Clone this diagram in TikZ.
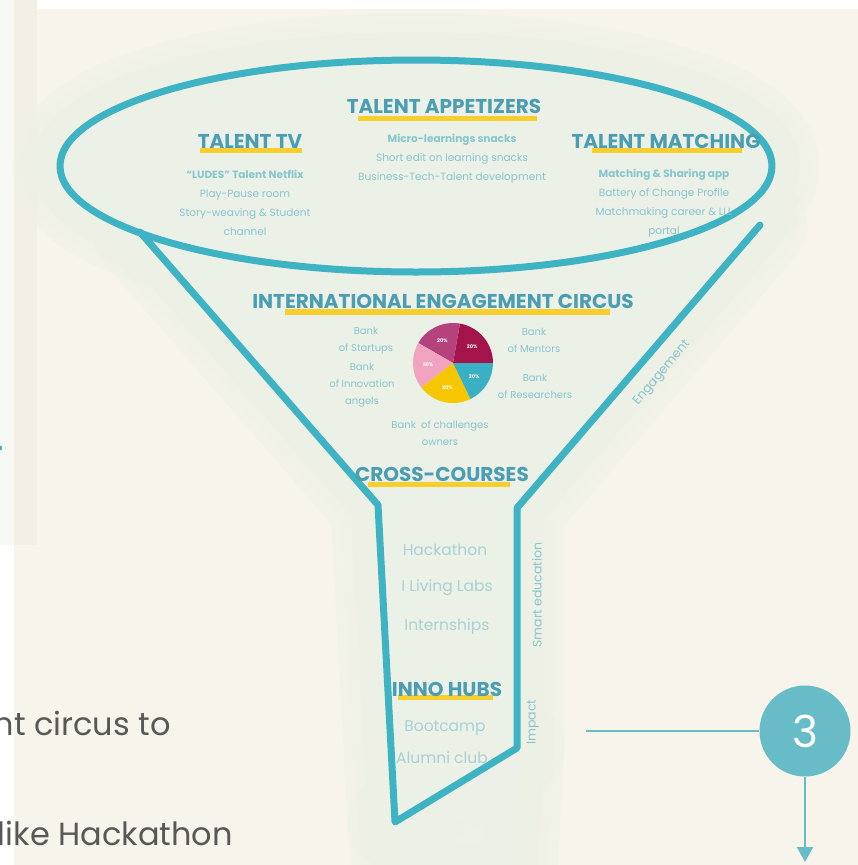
\documentclass[tikz,border=0pt]{standalone}
\usepackage{fontspec}
\setmainfont{Poppins}
\usetikzlibrary{arrows.meta}
\definecolor{bg}{HTML}{F7F4EC}
\definecolor{panelA}{HTML}{F8F8F4}
\definecolor{panelB}{HTML}{F2F0E5}
\definecolor{glow}{HTML}{ECF0E5}
\definecolor{inner}{HTML}{ECF1E8}
\definecolor{funnel}{HTML}{3DB3C4}
\definecolor{ttl}{HTML}{4A9DB2}
\definecolor{hl}{HTML}{F6CF2E}
\definecolor{smallc}{HTML}{86C6CE}
\definecolor{itemc}{HTML}{A8D2D3}
\definecolor{crimson}{HTML}{A3154A}
\definecolor{magen}{HTML}{B5427B}
\definecolor{pinkc}{HTML}{F2A3C0}
\definecolor{yellc}{HTML}{F6C700}
\definecolor{tealc}{HTML}{3AB0C5}
\definecolor{badge}{HTML}{67BCC8}
\definecolor{bodytxt}{HTML}{585858}
\tikzset{
  title/.style={font=\bfseries\fontsize{20}{22}\selectfont, text=ttl, inner sep=0},
  small/.style={font=\fontsize{10.5}{19}\selectfont, text=smallc, align=center, inner sep=0},
  pielbl/.style={font=\fontsize{10}{17}\selectfont, text=smallc, align=center, inner sep=0},
  item/.style={font=\fontsize{15.5}{17}\selectfont, text=itemc, inner sep=0},
  side/.style={font=\fontsize{12.5}{14}\selectfont, text=smallc, inner sep=0},
  pct/.style={font=\bfseries\fontsize{5}{6}\selectfont, text=white, inner sep=0},
  funnelline/.style={draw=funnel, line width=7, line join=round, line cap=round},
  halo/.style={draw=glow, line join=round, line cap=round, opacity=0.3},
  body/.style={font=\fontsize{32}{36}\selectfont, text=bodytxt, inner sep=0},
  conn/.style={draw=badge, line width=2},
}
\begin{document}
\begin{tikzpicture}[x=1pt,y=-1pt]
\clip (0,0) rectangle (858,865);
\fill[bg] (0,0) rectangle (858,865);
% left panel and top strip
\fill[white] (0,545) rectangle (14,865);
\fill[panelA] (0,0) rectangle (37,545);
\fill[panelB] (14,0) rectangle (37,545);
\fill[white] (37,0) rectangle (858,9);
\fill[funnel] (0,446) rectangle (2,450);
% soft glow around the funnel
\foreach \w in {95,75,55,38,22} {
  \draw[halo, line width=\w] (416,166) ellipse [x radius=356, y radius=106];
  \draw[halo, line width=\w] (140,232) -- (378,505) -- (395,822) -- (517,748) -- (517,508) -- (760,225);
  \draw[halo, line width=\w] (395,822) -- (400,870) -- (510,870) -- (517,748);
}
% funnel interior
\fill[inner] (416,166) ellipse [x radius=356, y radius=106];
\fill[inner] (140,232) -- (378,505) -- (395,822) -- (517,748) -- (517,508) -- (760,225) -- cycle;
\fill[inner, opacity=0.7] (395,822) -- (400,865) -- (512,865) -- (517,748) -- cycle;
% funnel outline
\draw[funnelline] (140,232) -- (378,505) -- (395,822) -- (517,748) -- (517,508) -- (760,225);
\draw[funnelline] (416,166) ellipse [x radius=356, y radius=106];
% highlights
\fill[hl] (358,116) rectangle (537,121);
\fill[hl] (200,148) rectangle (302,153);
\fill[hl] (592,148) rectangle (742,153);
\fill[hl] (285,309) rectangle (610,315);
\fill[hl] (368,482) rectangle (510,487);
\fill[hl] (398,695) rectangle (493,700);
% titles
\node[title] (tapp) at (444,106) {TALENT APPETIZERS};
\node[title] (ttv) at (250,141) {TALENT TV};
\node[title] (tmatch) at (666,141) {TALENT MATCHING};
\node[title] (tint) at (443,301) {INTERNATIONAL ENGAGEMENT CIRCUS};
\node[title] (tcross) at (442,474) {CROSS-COURSES};
\node[title] (tinno) at (447,689) {INNO HUBS};
% small texts
\node[small] (sapp) at (452,159) {{\bfseries Micro-learnings snacks}\\Short edit on learning snacks\\Business-Tech-Talent development};
\node[small] (stv) at (245,203) {{\bfseries “LUDES” Talent Netflix}\\Play-Pause room\\Story-weaving \& Student\\channel};
\node[small] (smatch) at (664,203) {{\bfseries Matching \& Sharing app}\\Battery of Change Profile\\Matchmaking career \& LLL\\portal};
% pie
\begin{scope}[shift={(453,363)}, yscale=-1]
  \fill[crimson] (0,0) -- (0:40) arc (0:80:40) -- cycle;
  \fill[magen] (0,0) -- (80:40) arc (80:150:40) -- cycle;
  \fill[pinkc] (0,0) -- (150:40) arc (150:218:40) -- cycle;
  \fill[yellc] (0,0) -- (218:40) arc (218:296:40) -- cycle;
  \fill[tealc] (0,0) -- (296:40) arc (296:360:40) -- cycle;
  \node[pct] (p1) at (40:25) {20\%};
  \node[pct] (p2) at (115:25) {20\%};
  \node[pct] (p3) at (184:25) {20\%};
  \node[pct] (p4) at (257:25) {20\%};
  \node[pct] (p5) at (328:25) {20\%};
\end{scope}
\node[pielbl] (bstart) at (366,341) {Bank\\of Startups};
\node[pielbl] (binnov) at (362,385) {Bank\\of Innovation\\angels};
\node[pielbl] (bment) at (534,340) {Bank\\of Mentors};
\node[pielbl] (bres) at (535,386) {Bank\\of Researchers};
\node[pielbl] (bchal) at (440,433) {Bank~~of challenges\\owners};
% neck items
\node[item] (hack) at (445,550) {Hackathon};
\node[item] (labs) at (447,588) {I Living Labs};
\node[item] (intern) at (447,627) {Internships};
\node[item] (boot) at (445,728) {Bootcamp};
\node[item] (alum) at (442,758) {Alumni club};
% side labels
\node[side, rotate=90] (smart) at (537,595) {Smart education};
\node[side, rotate=90] (impact) at (533,722) {Impact};
\node[side, rotate=50] (engage) at (662,373) {Engagement};
% body text
\node[body, anchor=base east] (txt1) at (171,735) {nt circus to};
\node[body, anchor=base east] (txt2) at (233,845) {like Hackathon};
% badge
\node[circle, fill=badge, minimum size=91, inner sep=0, text=white, font=\fontsize{44}{50}\selectfont] (n3) at (805,731) {3};
\coordinate (lstart) at (586,731);
\coordinate (aend) at (805,862);
\draw[conn] (lstart) -- (n3.west);
\draw[conn, -{Triangle[width=16pt,length=15pt]}] (n3.south) -- (aend);
\end{tikzpicture}
\end{document}
